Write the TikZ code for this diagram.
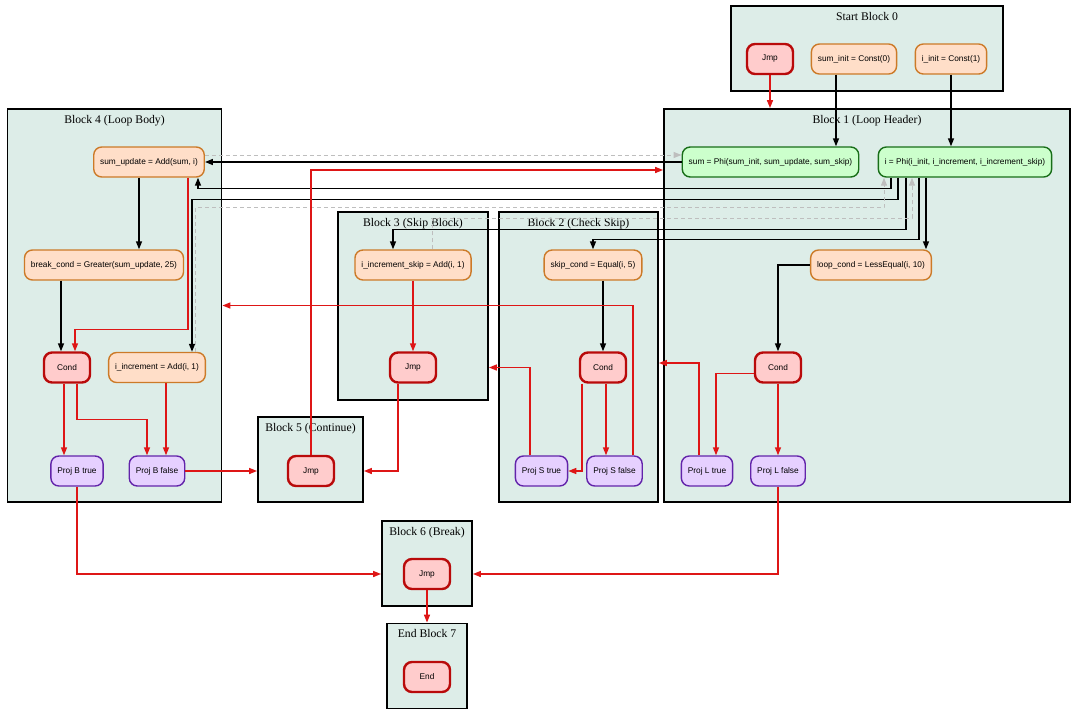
\documentclass[tikz,border=0pt]{standalone}
\usepackage{fontspec}
\setmainfont{Liberation Serif}
\setsansfont{Liberation Sans}
\usetikzlibrary{arrows.meta,shapes}

\definecolor{blockfill}{RGB}{221,237,232}
\definecolor{opfill}{RGB}{255,222,200}
\definecolor{opline}{RGB}{204,122,40}
\definecolor{phifill}{RGB}{204,255,204}
\definecolor{philine}{RGB}{24,110,24}
\definecolor{ctrlfill}{RGB}{255,204,204}
\definecolor{ctrlline}{RGB}{185,10,10}
\definecolor{projfill}{RGB}{230,208,255}
\definecolor{projline}{RGB}{98,36,170}
\definecolor{flowred}{RGB}{222,22,22}
\definecolor{backgrey}{RGB}{190,190,190}

\begin{document}
\begin{tikzpicture}[x=1pt,y=-1pt,>={Triangle[length=8pt,width=6pt]},line width=1.5pt]
        \tikzstyle{block}=[rectangle,draw=black,line width=1.8pt,fill=blockfill,inner sep=0pt]
        \tikzstyle{title}=[anchor=north,yshift=-3pt,font=\fontsize{11.7}{14}\selectfont]
        \tikzstyle{op}=[rectangle,rounded corners=8pt,draw=opline,fill=opfill,line width=1.4pt,minimum height=30pt,inner xsep=6.5pt,font=\sffamily\fontsize{8.3}{10}\selectfont]
        \tikzstyle{phi}=[op,draw=philine,fill=phifill]
        \tikzstyle{ctrl}=[op,draw=ctrlline,fill=ctrlfill,line width=2.4pt,minimum width=46pt]
        \tikzstyle{proj}=[op,draw=projline,fill=projfill]
        \tikzstyle{dep}=[->,black]
        \tikzstyle{flow}=[->,flowred]
        \tikzstyle{back}=[->,backgrey,dashed,dash pattern=on 4pt off 3pt,line width=1pt]

        \fill[white] (0,0) rectangle (1080,721);

        % basic blocks
        \node [block,minimum width=272pt,minimum height=85pt,label={[title]north:Start Block 0}] (b0) at (867,48.5) {};
        \node [block,minimum width=406pt,minimum height=393pt,label={[title]north:Block 1 (Loop Header)}] (b1) at (867,305.5) {};
        \node [block,minimum width=159pt,minimum height=290pt,label={[title]north:Block 2 (Check Skip)}] (b2) at (578.5,357) {};
        \node [block,minimum width=150pt,minimum height=188pt,label={[title]north:Block 3 (Skip Block)}] (b3) at (413,306) {};
        \node [block,minimum width=214pt,minimum height=393pt,label={[title]north:Block 4 (Loop Body)}] (b4) at (114.5,305.5) {};
        \node [block,minimum width=105pt,minimum height=85pt,label={[title]north:Block 5 (Continue)}] (b5) at (310.5,459.5) {};
        \node [block,minimum width=90pt,minimum height=85pt,label={[title]north:Block 6 (Break)}] (b6) at (427,563.5) {};
        \node [block,minimum width=80pt,minimum height=85pt,label={[title]north:End Block 7}] (b7) at (427,666) {};

        \node [ctrl] (jmp0) at (770,59) {Jmp};                          %B0
        \node [op] (suminit) at (854,59) {sum\_init = Const(0)};
        \node [op] (iinit) at (951,59) {i\_init = Const(1)};

        \node [phi] (sumphi) at (770.5,162) {sum = Phi(sum\_init, sum\_update, sum\_skip)};   %B1
        \node [phi] (iphi) at (965,162) {i = Phi(i\_init, i\_increment, i\_increment\_skip)};
        \node [op] (loopcond) at (871,265) {loop\_cond = LessEqual(i, 10)};
        \node [ctrl] (condL) at (778,367.5) {Cond};
        \node [proj] (projLt) at (707,471) {Proj L true};
        \node [proj] (projLf) at (778,471) {Proj L false};

        \node [op] (skipcond) at (593,265) {skip\_cond = Equal(i, 5)};  %B2
        \node [ctrl] (condS) at (603,367.5) {Cond};
        \node [proj] (projSt) at (541.5,471) {Proj S true};
        \node [proj] (projSf) at (614.5,471) {Proj S false};

        \node [op] (iskip) at (413,265) {i\_increment\_skip = Add(i, 1)};   %B3
        \node [ctrl] (jmp3) at (413,367.5) {Jmp};

        \node [op] (sumupd) at (149,162) {sum\_update = Add(sum, i)};   %B4
        \node [op] (breakcond) at (104,265) {break\_cond = Greater(sum\_update, 25)};
        \node [ctrl] (condB) at (67,367.5) {Cond};
        \node [op] (iincr) at (157,367.5) {i\_increment = Add(i, 1)};
        \node [proj] (projBt) at (77,471) {Proj B true};
        \node [proj] (projBf) at (157,471) {Proj B false};

        \node [ctrl] (jmp5) at (311,471) {Jmp};                         %B5
        \node [ctrl] (jmp6) at (427,574) {Jmp};                         %B6
        \node [ctrl] (endn) at (427,677) {End};                         %B7

        % data edges
        \draw [dep] ([xshift=-18pt]suminit.south) -- ([xshift=65.5pt]sumphi.north);
        \draw [dep] (iinit.south) -- ([xshift=-14pt]iphi.north);
        \draw [dep] (sumphi.west) -- (sumupd.east);
        \draw [dep] ([xshift=-74pt]iphi.south) -- ++(0,11) -| ([xshift=49pt]sumupd.south);
        \draw [dep] ([xshift=-67pt]iphi.south) -- ++(0,22) -| ([xshift=35pt]iincr.north);
        \draw [dep] ([xshift=-59pt]iphi.south) -- ++(0,52) -| ([xshift=-20pt]iskip.north);
        \draw [dep] ([xshift=-46pt]iphi.south) -- ++(0,62) -| (skipcond.north);
        \draw [dep] ([xshift=-39pt]iphi.south) -- ([xshift=55pt]loopcond.north);
        \draw [dep] (loopcond.west) -| (condL.north);
        \draw [dep] ([xshift=-10pt]sumupd.south) -- ([xshift=35pt]breakcond.north);
        \draw [dep] ([xshift=-43pt]breakcond.south) -- ([xshift=-6pt]condB.north);
        \draw [dep] ([xshift=10pt]skipcond.south) -- (condS.north);

        % loop back values
        \draw [back] ([yshift=7pt]sumupd.east) -- ([yshift=7pt]sumphi.west);
        \draw [back] ([xshift=38pt]iincr.north) -- ++(0,-144) -| ([xshift=-81pt]iphi.south);
        \draw [back] ([xshift=19pt]iskip.north) -- ++(0,-31) -| ([xshift=-53pt]iphi.south);

        % control flow
        \draw [flow] (jmp0) -- (jmp0 |- b1.north);
        \draw [flow] ([yshift=-6pt]condL.west) -| ([xshift=9pt]projLt.north);
        \draw [flow] (condL.south) -- (projLf.north);
        \draw [flow] ([xshift=-8pt]projLt.north) |- ([yshift=-6pt]b2.east);
        \draw [flow] (projLf.south) |- (b6.east |- jmp6);
        \draw [flow] (projBt.south) |- (b6.west |- jmp6);
        \draw [flow] ([xshift=39pt]sumupd.south) -- ++(0,152) -| ([xshift=8pt]condB.north);
        \draw [flow] ([xshift=-3pt]condB.south) -- ([xshift=-13pt]projBt.north);
        \draw [flow] ([xshift=10pt]condB.south) -- ++(0,36) -| ([xshift=-10pt]projBf.north);
        \draw [flow] ([xshift=9pt]iincr.south) -- ([xshift=9pt]projBf.north);
        \draw [flow] (projBf.east) -- (b5.west |- projBf);
        \draw [flow] (iskip.south) -- (jmp3.north);
        \draw [flow] ([xshift=-15pt]jmp3.south) |- (b5.east |- jmp5);
        \draw [flow] ([xshift=3pt]condS.south) -- ([xshift=-8.5pt]projSf.north);
        \draw [flow] ([xshift=-21pt]condS.south) |- (projSt.east);
        \draw [flow] ([xshift=-11.5pt]projSt.north) |- (b3.east |- jmp3);
        \draw [flow] ([xshift=18.5pt]projSf.north) |- (b4.east);
        \draw [flow] (jmp5.north) |- ([yshift=135.5pt]b1.west);
        \draw [flow] (jmp6.south) -- (jmp6 |- b7.north);
\end{tikzpicture}
\end{document}
